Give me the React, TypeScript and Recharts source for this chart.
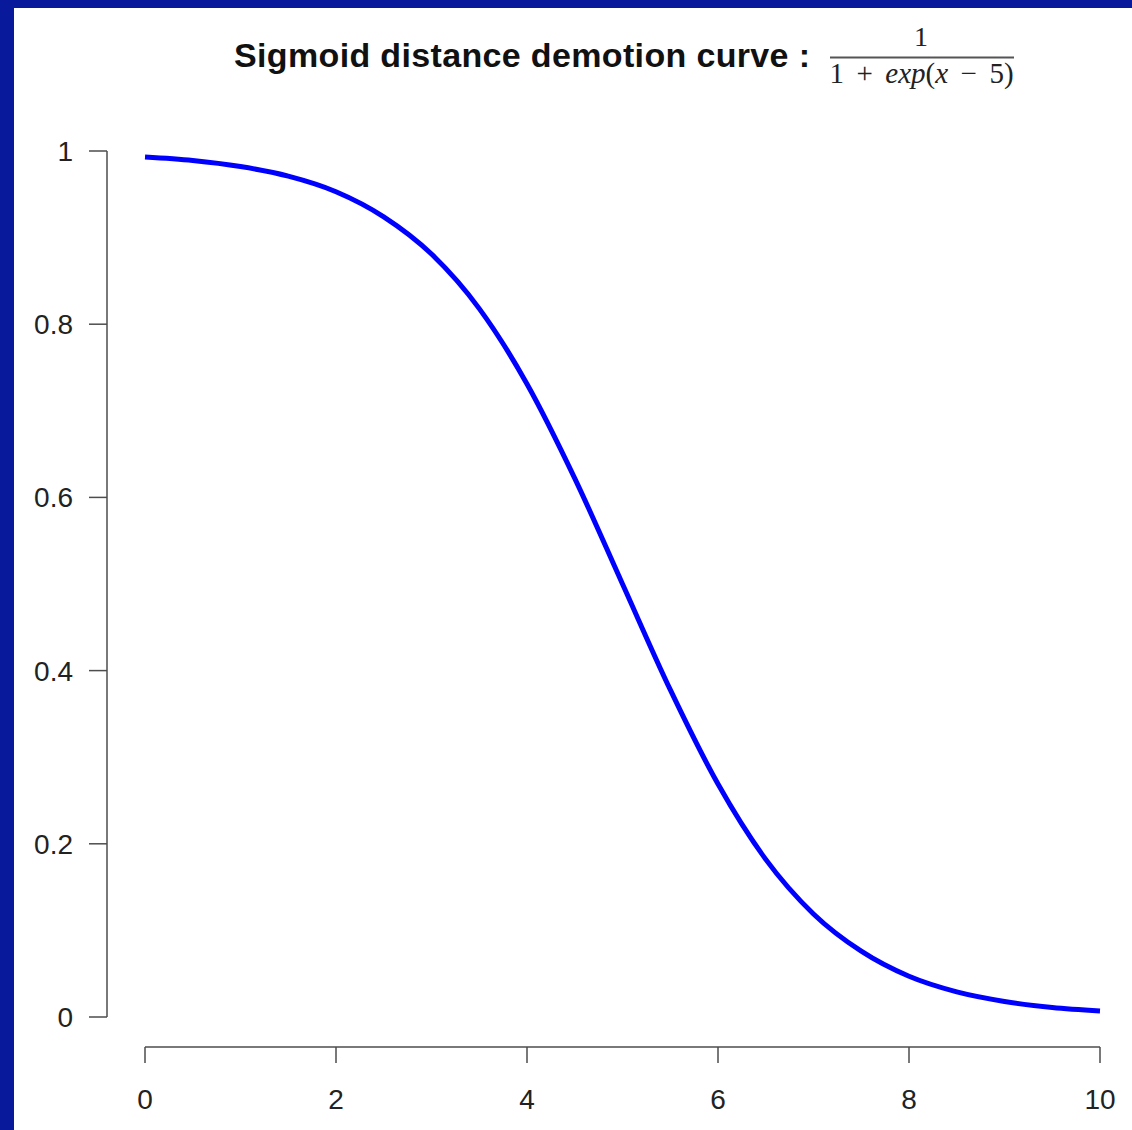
import React from 'react';
import { LineChart, Line, XAxis, YAxis } from 'recharts';

// distance (x) and the demotion factor at that distance
const distance = [0, 0.5, 1, 1.5, 2, 2.5, 3, 3.5, 4, 4.5, 5, 5.5, 6, 6.5, 7, 7.5, 8, 8.5, 9, 9.5, 10];
const demotion = [
  0.993, 0.989, 0.982, 0.971, 0.953, 0.924, 0.881, 0.818, 0.731, 0.622, 0.5,
  0.378, 0.269, 0.182, 0.119, 0.076, 0.047, 0.029, 0.018, 0.011, 0.007,
];

const xTicks = [0, 2, 4, 6, 8, 10];
const yTicks = [0, 0.2, 0.4, 0.6, 0.8, 1];

const data = distance.map((d, i) => ({ distance: d, demotion: demotion[i] }));

const axisColor = '#4d4d4d';
const tickFont = {
  fontFamily: '"Liberation Sans", Arial, sans-serif',
  fontSize: 28,
  fill: '#222',
};

export default function App() {
  return (
    <div style={{ position: 'absolute', left: 0, top: 0, width: 1132, height: 1130, background: '#08199b' }}>
      <div style={{ position: 'absolute', left: 14, top: 8, width: 1118, height: 1122, background: '#fff' }} />
      <div style={{ position: 'absolute', left: 0, top: 0 }}>
        <LineChart width={1132} height={1130} data={data} margin={{ top: 151, right: 32, bottom: 0, left: 0 }}>
          {/* empty axes first so the drawn axes sit off the plot, R style */}
          <XAxis
            xAxisId="gap"
            dataKey="distance"
            type="number"
            domain={[0, 10]}
            height={30}
            axisLine={false}
            tickLine={false}
            tick={false}
          />
          <XAxis
            xAxisId="x"
            dataKey="distance"
            type="number"
            domain={[0, 10]}
            ticks={xTicks}
            height={83}
            tickSize={16}
            tickMargin={26}
            axisLine={{ stroke: axisColor, strokeWidth: 1.5 }}
            tickLine={{ stroke: axisColor, strokeWidth: 1.5 }}
            tick={tickFont}
          />
          <YAxis
            yAxisId="gap"
            type="number"
            domain={[0, 1]}
            width={38}
            axisLine={false}
            tickLine={false}
            tick={false}
          />
          <YAxis
            yAxisId="y"
            type="number"
            domain={[0, 1]}
            ticks={yTicks}
            width={107}
            tickSize={18}
            tickMargin={16}
            axisLine={{ stroke: axisColor, strokeWidth: 1.5 }}
            tickLine={{ stroke: axisColor, strokeWidth: 1.5 }}
            tick={tickFont}
          />
          <Line
            xAxisId="x"
            yAxisId="y"
            dataKey="demotion"
            type="monotone"
            stroke="#0000ff"
            strokeWidth={5}
            dot={false}
            isAnimationActive={false}
          />
        </LineChart>
      </div>
      <svg width={1132} height={110} style={{ position: 'absolute', left: 0, top: 0 }}>
        <text
          x={234}
          y={67}
          fontFamily='"Liberation Sans", Arial, sans-serif'
          fontWeight="bold"
          fontSize={34}
          textLength={576}
          lengthAdjust="spacing"
          fill="#111"
        >
          Sigmoid distance demotion curve :
        </text>
        <g fontFamily='"Liberation Serif", "Times New Roman", serif' fill="#222">
          <text x={921} y={46} textAnchor="middle" fontSize={28}>1</text>
          <line x1={830} x2={1014} y1={57.5} y2={57.5} stroke="#555" strokeWidth={2} />
          <text x={921.5} y={83} textAnchor="middle" fontSize={29}>
            <tspan>1</tspan>
            <tspan dx={12.5}>+</tspan>
            <tspan dx={12.5} fontStyle="italic">exp</tspan>
            <tspan>(</tspan>
            <tspan fontStyle="italic">x</tspan>
            <tspan dx={12.5}>−</tspan>
            <tspan dx={12.5}>5)</tspan>
          </text>
        </g>
      </svg>
    </div>
  );
}
